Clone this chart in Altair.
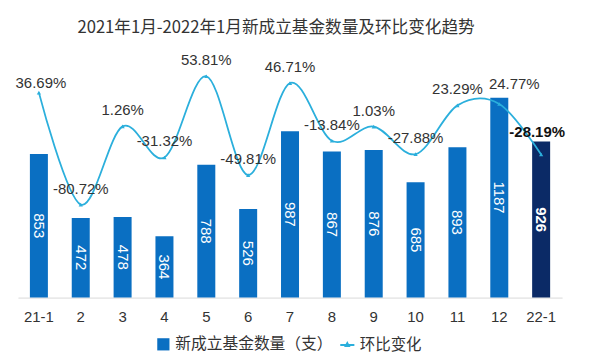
import altair as alt
import pandas as pd

months = ["21-1", "2", "3", "4", "5", "6", "7", "8", "9", "10", "11", "12", "22-1"]
counts = [853, 472, 478, 364, 788, 526, 987, 867, 876, 685, 893, 1187, 926]
changes = [36.69, -80.72, 1.26, -31.32, 53.81, -49.81, 46.71, -13.84, 1.03, -27.88, 23.29, 24.77, -28.19]
change_labels = ["36.69%", "-80.72%", "1.26%", "-31.32%", "53.81%", "-49.81%", "46.71%",
                 "-13.84%", "1.03%", "-27.88%", "23.29%", "24.77%", "-28.19%"]

bar_name = "新成立基金数量（支）"
line_name = "环比变化"

df = pd.DataFrame({
    "month": months,
    "count": counts,
    "change": changes,
    "clabel": change_labels,
    "bs": bar_name,
    "ls": line_name,
})

BLUE = "#0a6fc2"
NAVY = "#0b2a66"
CYAN = "#2bafdc"
FONT = "Noto Sans CJK SC"
LAST = "datum.month == '22-1'"
NOTLAST = "datum.month != '22-1'"

x = alt.X("month:N", sort=months, title=None,
          scale=alt.Scale(paddingInner=0.57, paddingOuter=0.285),
          axis=alt.Axis(labelAngle=0, labelFontSize=15, labelColor="#333333", labelFont="Liberation Sans",
                        ticks=False, domainColor="#d9d9d9", labelPadding=12, domainWidth=1))

BAR_DOM = [0, 1467]
LINE_DOM = [-178.3, 80.9]
ybar = alt.Y("count:Q", scale=alt.Scale(domain=BAR_DOM), axis=None)
yline = alt.Y("change:Q", scale=alt.Scale(domain=LINE_DOM), axis=None)

base = alt.Chart(df)

bars = base.mark_bar().encode(
    x=x,
    y=ybar,
    color=alt.condition(
        LAST,
        alt.value(NAVY),
        alt.Color("bs:N", scale=alt.Scale(domain=[bar_name], range=[BLUE]),
                  legend=alt.Legend(title=None, orient="none", legendX=138, legendY=287,
                                    symbolType="square", symbolSize=150, labelLimit=400,
                                    labelFontSize=15.8, labelFont=FONT, labelColor="#333333",
                                    symbolStrokeWidth=0)),
    ),
)

ymid = alt.Y("mid:Q", scale=alt.Scale(domain=BAR_DOM), axis=None)
bar_text = base.transform_filter(NOTLAST).transform_calculate(mid="datum.count / 2").mark_text(
    angle=90, color="white", fontSize=15, font="Liberation Sans").encode(x=x, y=ymid, text="count:Q")
bar_text_last = base.transform_filter(LAST).transform_calculate(mid="datum.count / 2").mark_text(
    angle=90, color="white", fontSize=15, font="Liberation Sans", fontWeight="bold").encode(
    x=x, y=ymid, text="count:Q")

bar_layer = alt.layer(bars, bar_text, bar_text_last)

line = base.mark_line(interpolate="cardinal", strokeWidth=1.8).encode(
    x=x,
    y=yline,
    color=alt.Color("ls:N", scale=alt.Scale(domain=[line_name], range=[CYAN]),
                    legend=alt.Legend(title=None, orient="none", legendX=322, legendY=287,
                                      symbolType="M-1,0L1,0M0,-0.25L0.22,0.15L-0.22,0.15Z",
                                      symbolSize=200, symbolStrokeWidth=2, symbolFillColor=CYAN,
                                      labelLimit=400,
                                      labelFontSize=15.5, labelFont=FONT, labelColor="#333333")),
)

pts = base.mark_point(shape="triangle-up", filled=True, size=18, color=CYAN, opacity=1).encode(
    x=x, y=yline,
)

TXT = dict(baseline="bottom", fontSize=15, font="Liberation Sans", color="#333333")
normal_filter = "indexof(['21-1', '12', '22-1'], datum.month) < 0"
line_text = base.transform_filter(normal_filter).mark_text(dy=-8, **TXT).encode(
    x=x, y=yline, text="clabel:N")
line_text_first = base.transform_filter("datum.month == '21-1'").mark_text(dx=2, dy=-2, **TXT).encode(
    x=x, y=yline, text="clabel:N")
line_text_12 = base.transform_filter("datum.month == '12'").mark_text(dx=15, dy=-12, **TXT).encode(
    x=x, y=yline, text="clabel:N")
line_text_last = base.transform_filter(LAST).mark_text(
    baseline="bottom", dx=-4, dy=-15, fontSize=15, font="Liberation Sans", color="#111111",
    fontWeight="bold").encode(x=x, y=yline, text="clabel:N")

line_layer = alt.layer(line, pts, line_text, line_text_first, line_text_12, line_text_last)

chart = alt.layer(bar_layer, line_layer).resolve_scale(
    y="independent", color="independent"
).properties(
    width=546,
    height=248,
    autosize=alt.AutoSizeParams(type="none"),
    padding={"left": 10, "top": 42, "right": 20, "bottom": 60},
    title=alt.TitleParams("2021年1月-2022年1月新成立基金数量及环比变化趋势", fontSize=16.7, font=FONT,
                          color="#333333", fontWeight="normal", anchor="middle", dx=-14, offset=14),
).configure_view(stroke=None)

chart.save("out.html", embed_options={"renderer": "svg", "actions": False})
